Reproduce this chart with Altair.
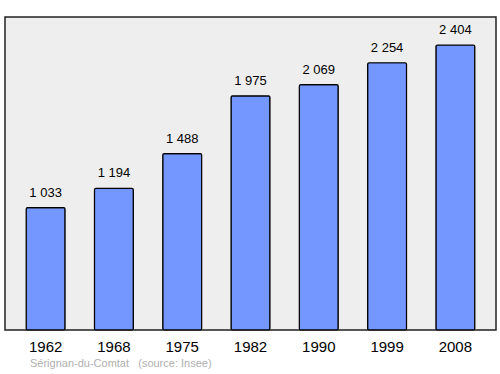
import altair as alt
import pandas as pd

years = ["1962", "1968", "1975", "1982", "1990", "1999", "2008"]
population = [1033, 1194, 1488, 1975, 2069, 2254, 2404]
labels = ["1 033", "1 194", "1 488", "1 975", "2 069", "2 254", "2 404"]
source_text = "Sérignan-du-Comtat\u00a0\u00a0\u00a0(source: Insee)"

df = pd.DataFrame({"year": years, "pop": population, "label": labels})

x = alt.X("year:N", sort=years,
          scale=alt.Scale(paddingInner=0.43, paddingOuter=0.31),
          axis=alt.Axis(title=None, labelAngle=0, labelFontSize=15, labelColor="#000",
                        labelFont="Liberation Sans", ticks=False, domain=False,
                        labelPadding=9))
y = alt.Y("pop:Q", scale=alt.Scale(domain=[0, 2640], nice=False), axis=None)

bars = alt.Chart(df).mark_bar(color="#7396ff", stroke="#000", strokeWidth=1.2,
                              cornerRadius=1.5).encode(x=x, y=y)
text = alt.Chart(df).mark_text(baseline="alphabetic", dy=-11, fontSize=13,
                               font="Liberation Sans", color="#000").encode(
    x=x, y=y, text="label:N")
src = alt.Chart(pd.DataFrame({"t": [source_text]})).mark_text(
    align="left", baseline="alphabetic", fontSize=11, font="Liberation Sans",
    color="#b0b0b0").encode(x=alt.value(25), y=alt.value(350), text="t:N")

chart = alt.layer(bars, text, src).properties(
    width=491, height=313,
    padding={"left": 5, "top": 17, "right": 4, "bottom": 44},
    autosize=alt.AutoSizeParams(type="none"),
    background="white",
).configure_view(fill="#eeeeee", stroke="#222222", strokeWidth=1.5)

chart.save("out.html", embed_options={"renderer": "svg", "actions": False})
